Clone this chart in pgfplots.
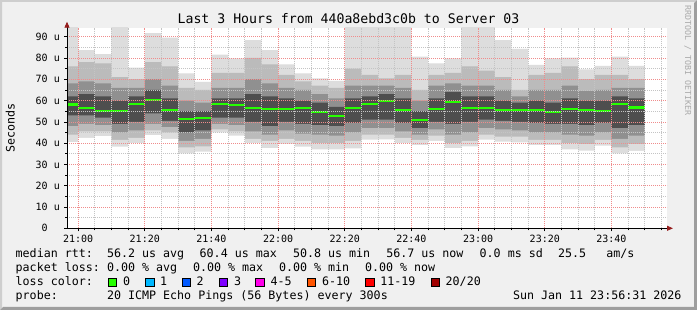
\documentclass[border=0pt]{standalone}
\usepackage{fontspec}
\newfontfamily\mono{DejaVu Sans Mono}
\usepackage{pgfplots}
\pgfplotsset{compat=1.18}
\usepackage{pgfplotstable}
\usetikzlibrary{arrows.meta}
\definecolor{bgc}{HTML}{F0F0F0}
\definecolor{shA}{HTML}{CECECE}
\definecolor{shB}{HTML}{9E9E9E}
\definecolor{cA}{HTML}{DDDDDD}
\definecolor{cB}{HTML}{BBBBBB}
\definecolor{cC}{HTML}{909090}
\definecolor{cD}{HTML}{4E4E4E}
\definecolor{medc}{HTML}{26FF00}
\definecolor{majc}{HTML}{F08C8C}
\definecolor{minc}{HTML}{C4C4C4}
\definecolor{arrowc}{HTML}{961E1E}
\definecolor{l0}{HTML}{26FF00}
\definecolor{l1}{HTML}{00B8FF}
\definecolor{l2}{HTML}{0059FF}
\definecolor{l3}{HTML}{7E00FF}
\definecolor{l4}{HTML}{FF00EA}
\definecolor{l6}{HTML}{FF5500}
\definecolor{l11}{HTML}{FF0000}
\definecolor{l20}{HTML}{A10000}
\definecolor{wmc}{HTML}{AAAAAA}
\newcommand\legfont{\mono\fontsize{11.66bp}{14bp}\selectfont}
\newcommand\tickfont{\mono\fontsize{10bp}{12bp}\selectfont}
\newcommand\titlefont{\mono\fontsize{13.2bp}{15bp}\selectfont}
\newcommand\wmfont{\mono\fontsize{8.3bp}{10bp}\selectfont}

\pgfplotstableread{
x lo1 lo2 lo3 lo4 med hi4 hi3 hi2 hi1
-3.333 40.5 44 48 53 58.1 62 68 76 96
0 42.5 45.5 49 53 56.4 63 69 78 83.7
5 43.3 45.5 48.5 52 55.0 62 68 77.5 81.8
10 38.3 41.5 45 49 55.0 60 66 71 96
15 40 42.5 46 50 58.3 62 66 70 75.4
20 43.8 46 49 54 60.4 65 70 78 91.7
25 42 45 47.5 50.5 55.5 61 67 76 89.5
30 35.2 38 41 45 51.3 55 60 66 72.7
35 36 38.5 42 46 51.8 55 59 65 68.8
40 45.1 46.5 49 52 58.3 61 66 73 81.6
45 43.5 45.5 48.5 52 57.8 61 66 73 79.8
50 40 42 45.5 50 56.5 63 70 80 88.4
55 37.6 41 44 48 56 62 68 77 83.7
60 39.6 42 46 50 56 61 66 72 77
65 38.3 41 44.5 49 56.5 60 65 69 72.7
70 37.1 40 44 48.5 54.5 59 63 67 70.4
75 37.1 40 43.5 48 52.8 57 61 66 69.2
80 37.5 41 45 49.5 56.6 61 67 75 96
85 41.6 44 47 51 58.3 62 67 72 96
90 41.8 44 47 51 59.8 63 67 70.4 96
95 40 42.5 45.5 49.5 55.5 61 66 72 96
100 39.1 41.5 44 47 50.8 55 60 65 80.6
105 41 43.5 46.5 50 56 61 67 72 77.4
110 37.6 40 44 49 59.3 64 68 73 79.8
115 38.5 41 45 50 56.6 62 67 76 96
120 41.6 44 47 51 56.6 62 67 74 96
125 40.7 43 46.5 50.5 55.5 60 65 71 88.4
130 40.4 43 46 50 55.5 59 62 65 84.2
135 39.1 41.5 45 49.5 55.5 60 65 72 76.7
140 39.1 41.5 45 49 54.5 59 65 73 79.8
145 37.1 40 44 49 56 61 67 76 80.2
150 36.5 39.5 43.5 48.5 55.5 60 64.5 70 74.6
155 38.8 41.5 45 49.5 55 60 65 72 76.3
160 35.2 38 42 47 58.5 62 66 72 80.6
165 36.4 39.5 43.5 48.5 56.7 61 66 70 76.3
170 36.4 39.5 43.5 48.5 56.7 61 66 70 76.3
}\smoke

\begin{document}
\begin{tikzpicture}
\useasboundingbox (0,0) rectangle (697bp,310bp);
\fill[bgc] (0,0) rectangle (697bp,310bp);
\fill[shA] (0,0) -- (0,310bp) -- (697bp,310bp) -- (695bp,308bp) -- (2bp,308bp) -- (2bp,2bp) -- cycle;
\fill[shB] (697bp,310bp) -- (697bp,0) -- (0,0) -- (3bp,3bp) -- (694bp,3bp) -- (694bp,307bp) -- cycle;

\begin{axis}[
  at={(67bp,81.7bp)}, anchor=south west,
  scale only axis, width=600bp, height=200.6bp,
  xmin=-3.333, xmax=176.667, ymin=0, ymax=94.2,
  axis on top,
  axis background/.style={fill=white},
  axis lines=left,
  axis line style={black, line width=0.9bp},
  every outer x axis line/.append style={-{Triangle[length=6bp,width=5bp,color=arrowc]}, shorten >=-6bp},
  every outer y axis line/.append style={-{Triangle[length=6bp,width=5bp,color=arrowc]}, shorten >=-6bp},
  xtick={0,20,...,160},
  xticklabels={21:00,21:20,21:40,22:00,22:20,22:40,23:00,23:20,23:40},
  minor xtick={5,10,15,25,30,35,45,50,55,65,70,75,85,90,95,105,110,115,125,130,135,145,150,155,165,170,175},
  ytick={0,10,...,90},
  yticklabels={0\hphantom{00},10 u,20 u,30 u,40 u,50 u,60 u,70 u,80 u,90 u},
  minor ytick={5,15,25,35,45,55,65,75,85},
  grid=both,
  major grid style={majc, line width=0.6bp, dash pattern=on 1bp off 1bp},
  minor grid style={minc, line width=0.6bp, dash pattern=on 1bp off 1bp},
  tick align=outside,
  major tick length=3bp, minor tick length=2bp,
  tick style={black, line width=0.6bp},
  xticklabel style={font=\tickfont, inner sep=0pt, anchor=north, yshift=-3.5bp},
  yticklabel style={font=\tickfont, inner sep=0pt, anchor=east, xshift=-4bp},
]
\addplot[const plot, fill=cA, draw=none] table[x=x,y=hi1] {\smoke} \closedcycle;
\addplot[const plot, fill=cB, draw=none] table[x=x,y=hi2] {\smoke} \closedcycle;
\addplot[const plot, fill=cC, draw=none] table[x=x,y=hi3] {\smoke} \closedcycle;
\addplot[const plot, fill=cD, draw=none] table[x=x,y=hi4] {\smoke} \closedcycle;
\addplot[const plot, fill=cC, draw=none] table[x=x,y=lo4] {\smoke} \closedcycle;
\addplot[const plot, fill=cB, draw=none] table[x=x,y=lo3] {\smoke} \closedcycle;
\addplot[const plot, fill=cA, draw=none] table[x=x,y=lo2] {\smoke} \closedcycle;
\addplot[const plot, fill=white, draw=none] table[x=x,y=lo1] {\smoke} \closedcycle;
\addplot[jump mark left, draw=medc, line width=2.2bp, mark=none] table[x=x,y=med] {\smoke};
\end{axis}

\node[anchor=base, inner sep=0pt, font=\titlefont] at (348.5bp,286bp) {Last 3 Hours from 440a8ebd3c0b to Server 03};
\node[rotate=90, anchor=base, inner sep=0pt, font=\legfont] at (14.5bp,182bp) {Seconds};
\node[rotate=-90, anchor=base west, inner sep=0pt, font=\wmfont, text=wmc] at (685bp,305bp) {RRDTOOL / TOBI OETIKER};

\begin{scope}[every node/.style={anchor=base west, inner sep=0pt, font=\legfont}]
\node at (15.5bp,52bp) {median rtt:};
\node at (106.8bp,52bp) {56.2 us avg};
\node at (199.5bp,52bp) {60.4 us max};
\node at (292.8bp,52bp) {50.8 us min};
\node at (386.1bp,52bp) {56.7 us now};
\node at (479.5bp,52bp) {0.0 ms sd};
\node at (557.8bp,52bp) {25.5};
\node at (606.2bp,52bp) {am/s};

\node at (15.5bp,38.3bp) {packet loss:};
\node at (106.8bp,38.3bp) {0.00 \% avg};
\node at (192.8bp,38.3bp) {0.00 \% max};
\node at (278.8bp,38.3bp) {0.00 \% min};
\node at (364.8bp,38.3bp) {0.00 \% now};

\node at (15.5bp,24.3bp) {loss color:};
\node at (122.8bp,24.3bp) {0};
\node at (159.8bp,24.3bp) {1};
\node at (196.5bp,24.3bp) {2};
\node at (233.8bp,24.3bp) {3};
\node at (270.5bp,24.3bp) {4-5};
\node at (321.8bp,24.3bp) {6-10};
\node at (380.2bp,24.3bp) {11-19};
\node at (445.5bp,24.3bp) {20/20};

\node at (15.5bp,10.5bp) {probe:};
\node at (106.8bp,10.5bp) {20 ICMP Echo Pings (56 Bytes) every 300s};
\node at (512.8bp,10.5bp) {Sun Jan 11 23:56:31 2026};
\end{scope}

\begin{scope}[line width=0.8bp, draw=black]
\filldraw[fill=l0] (108.3bp,23.5bp) rectangle +(8.3bp,8.3bp);
\filldraw[fill=l1] (145.7bp,23.5bp) rectangle +(8.3bp,8.3bp);
\filldraw[fill=l2] (182.3bp,23.5bp) rectangle +(8.3bp,8.3bp);
\filldraw[fill=l3] (219bp,23.5bp) rectangle +(8.3bp,8.3bp);
\filldraw[fill=l4] (255.7bp,23.5bp) rectangle +(8.3bp,8.3bp);
\filldraw[fill=l6] (307.3bp,23.5bp) rectangle +(8.3bp,8.3bp);
\filldraw[fill=l11] (365.7bp,23.5bp) rectangle +(8.3bp,8.3bp);
\filldraw[fill=l20] (431bp,23.5bp) rectangle +(8.3bp,8.3bp);
\end{scope}
\end{tikzpicture}
\end{document}
